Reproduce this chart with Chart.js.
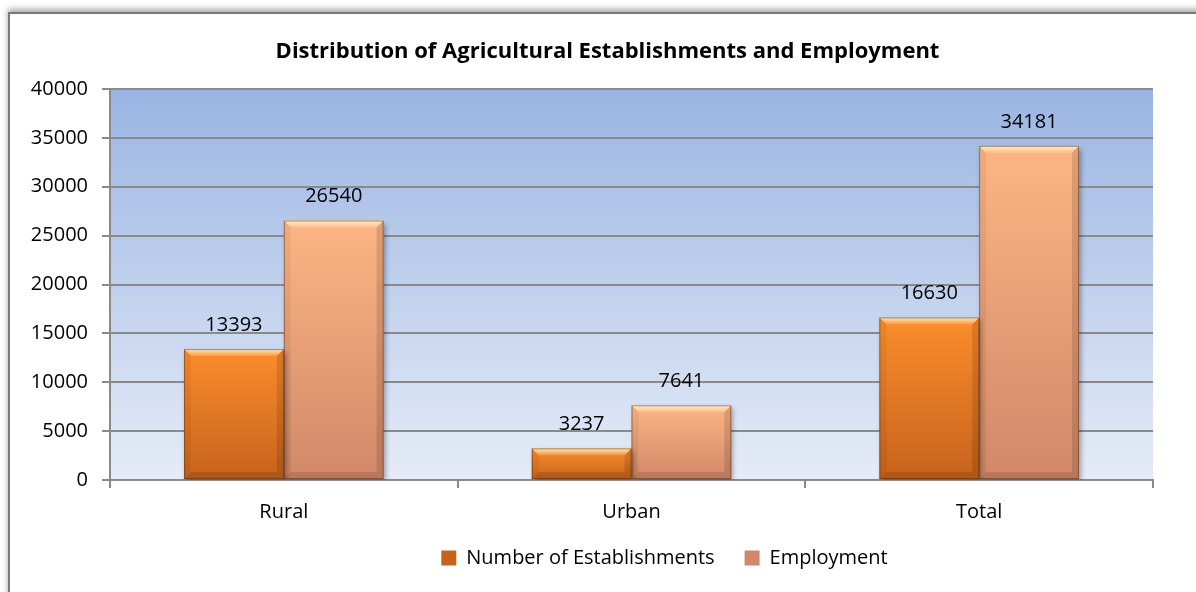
<!DOCTYPE html>
<html>
<head>
<meta charset="utf-8">
<script src="https://cdn.jsdelivr.net/npm/chart.js@4/dist/chart.umd.min.js"></script>
<style>
  html, body { margin: 0; padding: 0; background: #fff; overflow: hidden; }
  #frame {
    position: absolute; left: 8px; top: 12px; width: 1210px; height: 600px;
    border: 2px solid #7a7a7a; box-shadow: 0 -3px 6px rgba(0,0,0,0.35);
  }
  #wrap { position: absolute; left: 0; top: 0; width: 1196px; height: 592px; }
</style>
</head>
<body>
<div id="frame"></div>
<div id="wrap"><canvas id="barChart" width="1196" height="592"></canvas></div>
<script>
(function(){
    "use strict";
    var categories = ["Rural", "Urban", "Total"];
    var establishments = [13393, 3237, 16630];
    var employment = [26540, 7641, 34181];
    var yTicks = [0, 5000, 10000, 15000, 20000, 25000, 30000, 35000, 40000];
    var seriesNames = ["Number of Establishments", "Employment"];

    var fontFamily = "'Open Sans', sans-serif";

    function barFill(top, bottom, flat) {
        return function(ctx) {
            var chart = ctx.chart;
            if (!chart.chartArea || ctx.dataIndex === undefined) return flat;
            var yScale = chart.scales.y;
            var y0 = yScale.getPixelForValue(ctx.raw);
            var y1 = yScale.getPixelForValue(0);
            if (!isFinite(y0) || y0 === y1) return flat;
            var g = chart.ctx.createLinearGradient(0, y0, 0, y1);
            g.addColorStop(0, top);
            g.addColorStop(1, bottom);
            return g;
        };
    }

    // plot background, bar shadow, bevel and value labels
    var decor = {
        id: "decor",
        afterLayout: function(chart) {
            // title and legend sit off-centre in the original
            chart.titleBlock.left += 31;
            chart.titleBlock.right += 31;
            chart.legend.left += 88;
            chart.legend.right += 88;
        },
        beforeDraw: function(chart) {
            var a = chart.chartArea, c = chart.ctx;
            var g = c.createLinearGradient(0, a.top, 0, a.bottom);
            g.addColorStop(0, "#9ab5e3");
            g.addColorStop(1, "#e6ecf7");
            c.save();
            c.fillStyle = g;
            c.fillRect(a.left, a.top, a.right - a.left, a.bottom - a.top);
            c.restore();
        },
        beforeDatasetsDraw: function(chart) {
            var c = chart.ctx;
            c.save();
            c.shadowColor = "rgba(0,0,0,0.35)";
            c.shadowBlur = 5;
            c.shadowOffsetX = 2;
            c.shadowOffsetY = 3;
        },
        afterDatasetsDraw: function(chart) {
            var c = chart.ctx;
            c.restore();
            chart.data.datasets.forEach(function(ds, di) {
                chart.getDatasetMeta(di).data.forEach(function(bar, i) {
                    var w = bar.width, L = bar.x - w / 2, R = bar.x + w / 2;
                    var T = bar.y, B = bar.base, b = 7;
                    c.save();
                    // top highlight
                    var g = c.createLinearGradient(0, T, 0, T + b);
                    g.addColorStop(0, "rgba(255,252,215,0.85)");
                    g.addColorStop(1, "rgba(255,240,200,0.15)");
                    c.fillStyle = g;
                    c.beginPath();
                    c.moveTo(L, T); c.lineTo(R, T); c.lineTo(R - b, T + b); c.lineTo(L + b, T + b);
                    c.closePath(); c.fill();
                    // left side
                    c.fillStyle = "rgba(0,0,0,0.05)";
                    c.beginPath();
                    c.moveTo(L, T); c.lineTo(L + b, T + b); c.lineTo(L + b, B - b); c.lineTo(L, B);
                    c.closePath(); c.fill();
                    // right side
                    c.fillStyle = "rgba(0,0,0,0.12)";
                    c.beginPath();
                    c.moveTo(R, T); c.lineTo(R - b, T + b); c.lineTo(R - b, B - b); c.lineTo(R, B);
                    c.closePath(); c.fill();
                    // bottom
                    c.fillStyle = "rgba(0,0,0,0.12)";
                    c.beginPath();
                    c.moveTo(L, B); c.lineTo(L + b, B - b); c.lineTo(R - b, B - b); c.lineTo(R, B);
                    c.closePath(); c.fill();
                    c.strokeStyle = "rgba(90,45,15,0.5)";
                    c.lineWidth = 1;
                    c.strokeRect(L + 0.5, T + 0.5, w - 1, B - T - 1);
                    // value label
                    c.fillStyle = "#000";
                    c.font = "20px " + fontFamily;
                    c.textAlign = "center";
                    c.textBaseline = "bottom";
                    c.fillText(String(ds.data[i]), bar.x, T - 14);
                    c.restore();
                });
            });
        }
    };

    var chartArea = document.querySelector("#barChart");
    var barChart = new Chart(chartArea, {
        type: "bar",
        data: {
            labels: categories,
            datasets: [
                {
                    label: seriesNames[0],
                    data: establishments,
                    backgroundColor: barFill("#fb8d2c", "#c6621c", "#e7782a")
                },
                {
                    label: seriesNames[1],
                    data: employment,
                    backgroundColor: barFill("#fdb584", "#d08869", "#d9936f")
                }
            ]
        },
        options: {
            responsive: false,
            animation: false,
            layout: { padding: { left: 0, right: 43, top: 0, bottom: 14 } },
            datasets: { bar: { barPercentage: 1, categoryPercentage: 0.574 } },
            plugins: {
                title: {
                    display: true,
                    text: "Distribution of Agricultural Establishments and Employment",
                    color: "#000",
                    font: { family: fontFamily, size: 22, weight: "bold" },
                    padding: { top: 39, bottom: 23.6 }
                },
                legend: {
                    position: "bottom",
                    labels: {
                        color: "#000",
                        font: { family: fontFamily, size: 20 },
                        boxWidth: 15,
                        boxHeight: 15,
                        padding: 30
                    }
                },
                tooltip: { enabled: false }
            },
            scales: {
                x: {
                    grid: { display: true, drawOnChartArea: false, offset: true, tickLength: 8, color: "#8a8a8a", lineWidth: 2 },
                    border: { color: "#8a8a8a", width: 2 },
                    ticks: { color: "#000", font: { family: fontFamily, size: 20 }, padding: 12 },
                    afterFit: function(scale) { scale.height = 38; }
                },
                y: {
                    min: 0,
                    max: 40000,
                    afterBuildTicks: function(scale) {
                        scale.ticks = yTicks.map(function(v) { return { value: v }; });
                    },
                    grid: { color: "#8a8a8a", lineWidth: 2, tickLength: 8 },
                    border: { color: "#8a8a8a", width: 2 },
                    ticks: {
                        color: "#000",
                        font: { family: fontFamily, size: 20 },
                        padding: 14,
                        callback: function(v) { return String(v); }
                    },
                    afterFit: function(scale) { scale.width = 110; }
                }
            }
        },
        plugins: [decor]
    });
})();
</script>
</body>
</html>
